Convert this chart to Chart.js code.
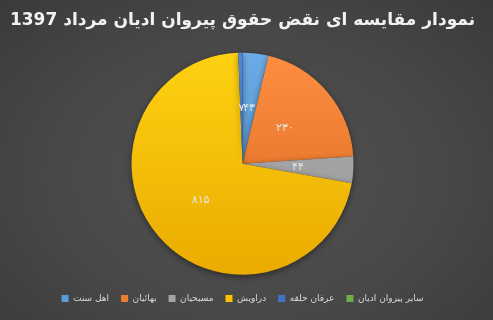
<!DOCTYPE html>
<html>
<head>
<meta charset="utf-8">
<script src="https://cdn.jsdelivr.net/npm/chart.js@4"></script>
<style>
  html, body { margin: 0; padding: 0; }
  body {
    width: 493px; height: 320px;
    background: radial-gradient(ellipse at 50% 55%, #525252 0%, #484848 55%, #3a3a3a 100%);
  }
  #wrap { width: 493px; height: 320px; }
</style>
</head>
<body>
<div id="wrap"><canvas id="pieChart"></canvas></div>
<script>
const chartTitle = 'نمودار مقایسه ای نقض حقوق پیروان ادیان مرداد 1397';
const groups = ['اهل سنت', 'بهائیان', 'مسیحیان', 'دراویش', 'عرفان حلقه', 'سایر پیروان ادیان'];
const cases = [43, 230, 44, 815, 7, 0];
const sliceColors = ['#5B9BD5', '#ED7D31', '#A5A5A5', '#FFC000', '#4472C4', '#70AD47'];

function toPersianDigits(n) {
  const digits = '۰۱۲۳۴۵۶۷۸۹';
  return String(n).replace(/[0-9]/g, d => digits[d]);
}

function shade(hex, amt) {
  const num = parseInt(hex.slice(1), 16);
  let r = (num >> 16) + amt, g = ((num >> 8) & 255) + amt, b = (num & 255) + amt;
  r = Math.max(0, Math.min(255, r)); g = Math.max(0, Math.min(255, g)); b = Math.max(0, Math.min(255, b));
  return `rgb(${r},${g},${b})`;
}

// slice fill: light at top, darker at bottom
function sliceFill(context) {
  const chart = context.chart;
  const area = chart.chartArea;
  const base = sliceColors[context.dataIndex];
  if (!area) return base;
  const g = chart.ctx.createLinearGradient(0, area.top, 0, area.bottom);
  g.addColorStop(0, shade(base, 18));
  g.addColorStop(1, shade(base, -22));
  return g;
}

// value labels at half radius
const valueLabels = {
  id: 'valueLabels',
  afterDatasetsDraw(chart) {
    const ctx = chart.ctx;
    const meta = chart.getDatasetMeta(0);
    ctx.save();
    ctx.font = '11px "DejaVu Sans"';
    ctx.fillStyle = '#e8e8e8';
    ctx.textAlign = 'center';
    ctx.textBaseline = 'middle';
    meta.data.forEach((arc, i) => {
      if (!cases[i]) return;
      const p = arc.tooltipPosition();
      ctx.fillText(toPersianDigits(cases[i]), p.x, p.y);
    });
    ctx.restore();
  }
};

// soft shadow under pie
const pieShadow = {
  id: 'pieShadow',
  beforeDatasetsDraw(chart) {
    const ctx = chart.ctx;
    ctx.save();
    ctx.shadowColor = 'rgba(0,0,0,0.45)';
    ctx.shadowBlur = 6;
    ctx.shadowOffsetY = 2;
  },
  afterDatasetsDraw(chart) {
    chart.ctx.restore();
  }
};

const ctx = document.getElementById('pieChart').getContext('2d');
new Chart(ctx, {
  type: 'pie',
  data: {
    labels: groups,
    datasets: [{
      data: cases,
      backgroundColor: sliceFill,
      borderWidth: 0,
      radius: 111
    }]
  },
  options: {
    responsive: true,
    maintainAspectRatio: false,
    animation: false,
    layout: { padding: { top: 0, bottom: 7, left: 0, right: 8 } },
    plugins: {
      title: {
        display: true,
        text: chartTitle,
        color: '#f2f2f2',
        font: { family: 'DejaVu Sans', size: 17, weight: 'bold' },
        padding: { top: 10, bottom: 15 }
      },
      legend: {
        position: 'bottom',
        labels: {
          color: '#d9d9d9',
          font: { family: 'DejaVu Sans', size: 9 },
          boxWidth: 7,
          boxHeight: 7,
          padding: 12,
          generateLabels(chart) {
            return groups.map((g, i) => ({
              text: g,
              fillStyle: sliceColors[i],
              strokeStyle: sliceColors[i],
              fontColor: '#d9d9d9',
              lineWidth: 0,
              index: i
            }));
          }
        }
      },
      tooltip: { enabled: false }
    }
  },
  plugins: [pieShadow, valueLabels]
});
</script>
</body>
</html>
